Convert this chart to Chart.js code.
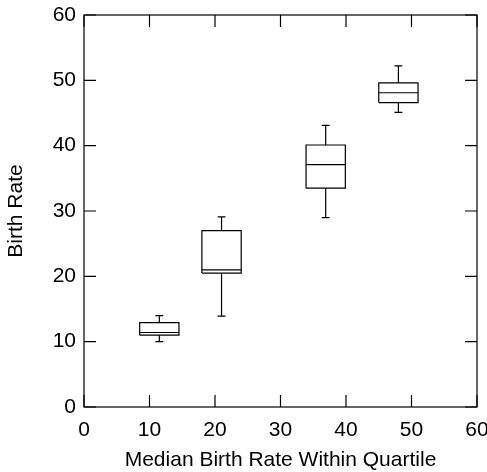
<!DOCTYPE html>
<html><head><meta charset="utf-8">
<script src="https://cdn.jsdelivr.net/npm/chart.js@4"></script>
<style>html,body{margin:0;padding:0;background:#fff}canvas{display:block}</style>
</head><body>
<canvas id="c" width="487" height="472"></canvas>
<script>
// Data
const positions = [11.5, 21, 36.9, 48];
const mins      = [10, 13.9, 29, 45.1];
const q1s       = [11, 20.5, 33.5, 46.6];
const medians   = [11.4, 21, 37.1, 48.1];
const q3s       = [12.9, 27, 40.1, 49.6];
const maxs      = [14, 29.1, 43.1, 52.2];
const xTickValues = [0, 10, 20, 30, 40, 50, 60];
const yTickValues = [0, 10, 20, 30, 40, 50, 60];
const xTitle = 'Median Birth Rate Within Quartile';
const yTitle = 'Birth Rate';

const HALF = 3.0;   // box half width (x units)
const CAP = 0.6;    // whisker cap half width (x units)
const FONT = '"Liberation Sans", Arial, sans-serif';

const lineStyle = {type: 'scatter', showLine: true, pointRadius: 0, borderColor: '#000', borderWidth: 1.2, fill: false, tension: 0};
const datasets = [];
positions.forEach((x, i) => {
  datasets.push({...lineStyle, data: [
    {x: x - HALF, y: q1s[i]}, {x: x + HALF, y: q1s[i]}, {x: x + HALF, y: q3s[i]}, {x: x - HALF, y: q3s[i]}, {x: x - HALF, y: q1s[i]}
  ]});
  datasets.push({...lineStyle, data: [{x: x - HALF, y: medians[i]}, {x: x + HALF, y: medians[i]}]});
  datasets.push({...lineStyle, data: [{x: x, y: q3s[i]}, {x: x, y: maxs[i]}, {x: x - CAP, y: maxs[i]}, {x: x + CAP, y: maxs[i]}]});
  datasets.push({...lineStyle, data: [{x: x, y: q1s[i]}, {x: x, y: mins[i]}, {x: x - CAP, y: mins[i]}, {x: x + CAP, y: mins[i]}]});
});

const framePlugin = {
  id: 'frame',
  afterDatasetsDraw(chart) {
    const {ctx, chartArea: a, scales} = chart;
    ctx.save();
    ctx.strokeStyle = '#000';
    ctx.lineWidth = 1.2;
    ctx.strokeRect(a.left, a.top, a.right - a.left, a.bottom - a.top);
    const T = 12;
    ctx.beginPath();
    xTickValues.forEach(v => {
      const px = scales.x.getPixelForValue(v);
      ctx.moveTo(px, a.bottom); ctx.lineTo(px, a.bottom - T);
      ctx.moveTo(px, a.top); ctx.lineTo(px, a.top + T);
    });
    yTickValues.forEach(v => {
      const py = scales.y.getPixelForValue(v);
      ctx.moveTo(a.left, py); ctx.lineTo(a.left + T, py);
      ctx.moveTo(a.right, py); ctx.lineTo(a.right - T, py);
    });
    ctx.stroke();
    ctx.restore();
  }
};

new Chart(document.getElementById('c'), {
  data: {datasets},
  options: {
    responsive: false,
    animation: false,
    layout: {padding: {top: 15, right: 10, left: 0, bottom: 0}},
    plugins: {legend: {display: false}, tooltip: {enabled: false}},
    scales: {
      x: {
        type: 'linear', min: 0, max: 60,
        afterBuildTicks: s => { s.ticks = xTickValues.map(v => ({value: v})); },
        afterFit: s => { s.height = 65; s.paddingLeft = 0; s.paddingRight = 0; },
        grid: {display: false, drawTicks: false},
        border: {display: false},
        ticks: {color: '#000', font: {family: FONT, size: 21}, padding: 11, maxRotation: 0, autoSkip: false},
        title: {display: true, text: xTitle, color: '#000', font: {family: FONT, size: 21, lineHeight: 1.1}, padding: {top: 0, bottom: 0}}
      },
      y: {
        type: 'linear', min: 0, max: 60,
        afterBuildTicks: s => { s.ticks = yTickValues.map(v => ({value: v})); },
        afterFit: s => { s.width = 84; s.paddingTop = 0; s.paddingBottom = 0; },
        grid: {display: false, drawTicks: false},
        border: {display: false},
        ticks: {color: '#000', font: {family: FONT, size: 21}, padding: 8, autoSkip: false},
        title: {display: true, text: yTitle, color: '#000', font: {family: FONT, size: 21}, padding: {top: 4, bottom: 0}}
      }
    }
  },
  plugins: [framePlugin]
});
</script>
</body></html>
